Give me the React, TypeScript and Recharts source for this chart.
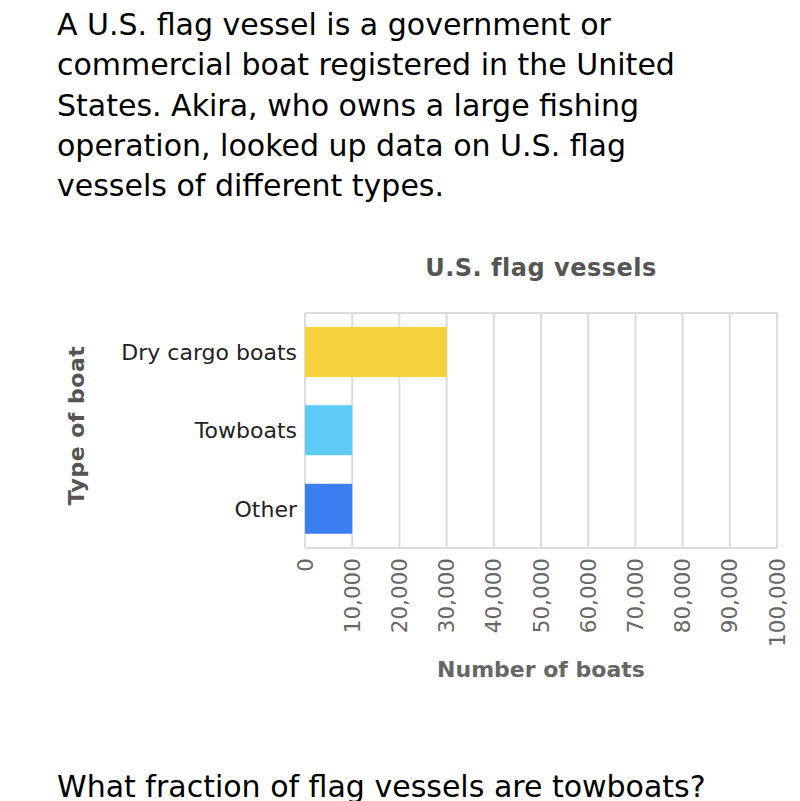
import { Bar, BarChart, CartesianGrid, Cell, XAxis, YAxis } from 'recharts';

// values
const boatTypes = ['Dry cargo boats', 'Towboats', 'Other'];
const boatCounts = [30000, 10000, 10000];
const barColors = ['#f5d23d', '#5ecbf7', '#3a7ef0'];
const countTicks = [0, 10000, 20000, 30000, 40000, 50000, 60000, 70000, 80000, 90000, 100000];

const introLines = [
  'A U.S. flag vessel is a government or',
  'commercial boat registered in the United',
  'States. Akira, who owns a large fishing',
  'operation, looked up data on U.S. flag',
  'vessels of different types.',
];
const question = 'What fraction of flag vessels are towboats?';

const data = boatTypes.map((name, i) => ({ name, count: boatCounts[i] }));

const FONT = '"DejaVu Sans", Verdana, sans-serif';

const CountTick = (props: any) => {
  const { x, y, payload } = props;
  return (
    <text
      x={x}
      y={y}
      dy="0.35em"
      transform={`rotate(-90 ${x} ${y})`}
      textAnchor="end"
      fill="#666"
      fontSize={21.5}
      fontFamily={FONT}
    >
      {payload.value.toLocaleString('en-US')}
    </text>
  );
};

const TypeTick = (props: any) => {
  const { x, y, payload } = props;
  return (
    <text x={x} y={y} dy="0.35em" textAnchor="end" fill="#222" fontSize={22} fontFamily={FONT}>
      {payload.value}
    </text>
  );
};

export default function App() {
  return (
    <div
      style={{
        position: 'absolute',
        left: 0,
        top: 0,
        width: 800,
        height: 801,
        overflow: 'hidden',
        background: '#fff',
        fontFamily: FONT,
      }}
    >
      <div style={{ position: 'absolute', left: 57, top: 5, fontSize: 30, lineHeight: '40.3px', color: '#000' }}>
        {introLines.map((line) => (
          <div key={line} style={{ whiteSpace: 'nowrap' }}>{line}</div>
        ))}
      </div>
      <div
        style={{
          position: 'absolute',
          left: 305,
          width: 472,
          top: 254,
          textAlign: 'center',
          fontSize: 24,
          letterSpacing: 0.5,
          fontWeight: 'bold',
          color: '#555',
        }}
      >
        U.S. flag vessels
      </div>
      <div style={{ position: 'absolute', left: 57, top: 767, fontSize: 30, lineHeight: '40.3px', whiteSpace: 'nowrap' }}>
        {question}
      </div>
      <div style={{ position: 'absolute', left: 0, top: 0 }}>
        <BarChart
          width={800}
          height={801}
          data={data}
          layout="vertical"
          barSize={50}
          margin={{ top: 313, right: 23, left: 0, bottom: 113 }}
        >
          <CartesianGrid
            stroke="#dcdcdc"
            strokeWidth={2}
            horizontalCoordinatesGenerator={({ offset }: any) => [offset.top, offset.top + offset.height]}
          />
          <XAxis
            type="number"
            domain={[0, 100000]}
            ticks={countTicks}
            interval={0}
            axisLine={false}
            tickLine={false}
            tick={<CountTick />}
            tickMargin={4}
            height={140}
            label={({ viewBox }: any) => (
              <text
                x={viewBox.x + viewBox.width / 2}
                y={viewBox.y + 129}
                textAnchor="middle"
                fill="#666"
                fontSize={22}
                fontWeight="bold"
                fontFamily={FONT}
              >
                Number of boats
              </text>
            )}
          />
          <YAxis
            type="category"
            dataKey="name"
            width={305}
            axisLine={false}
            tickLine={false}
            tick={<TypeTick />}
            label={({ viewBox }: any) => {
              const cx = viewBox.x + 84;
              const cy = viewBox.y + viewBox.height / 2 - 5;
              return (
                <text
                  x={cx}
                  y={cy}
                  transform={`rotate(-90 ${cx} ${cy})`}
                  textAnchor="middle"
                  fill="#555"
                  fontSize={22}
                  letterSpacing={0.5}
                  fontWeight="bold"
                  fontFamily={FONT}
                >
                  Type of boat
                </text>
              );
            }}
          />
          <Bar dataKey="count" isAnimationActive={false}>
            {data.map((d, i) => (
              <Cell key={d.name} fill={barColors[i]} />
            ))}
          </Bar>
        </BarChart>
      </div>
    </div>
  );
}
